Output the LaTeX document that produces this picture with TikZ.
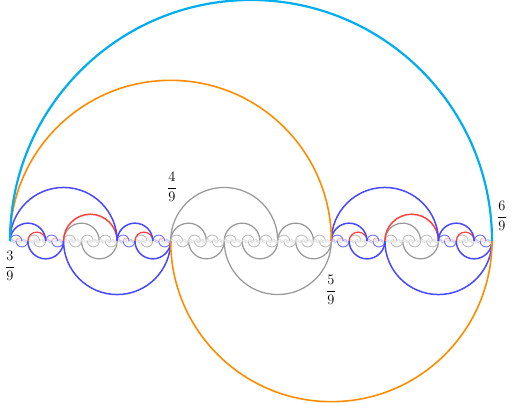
\documentclass[tikz,border=0pt]{standalone}
\usepackage{amsmath}
\definecolor{cyanc}{RGB}{0,174,239}
\definecolor{orangec}{RGB}{255,140,0}
\definecolor{bluec}{RGB}{72,72,255}
\definecolor{redc}{RGB}{255,64,64}
\tikzset{
  lbl/.style={font=\Large, inner sep=0pt},
  bigarc/.style={line width=2.2pt, cyanc},
  midarc/.style={line width=1.6pt, orangec},
}
% gray self-similar pattern on [a,a+L]
\newcommand\Gint[2]{%
  \begingroup
  \pgfmathsetmacro\Lt{#2/3}%
  \ifdim\Lt pt>0.5pt
    \pgfmathsetmacro\xb{#1+\Lt}%
    \pgfmathsetmacro\xc{#1+2*\Lt}%
    \pgfmathtruncatemacro\pc{min(40,10+3*\Lt)}%
    \pgfmathsetmacro\lw{min(1.25,0.3+0.09*\Lt)}%
    \draw[line width=\lw pt, color=black!\pc] (#1,0) arc[start angle=180,end angle=0,radius=\Lt pt];
    \draw[line width=\lw pt, color=black!\pc] (\xb,0) arc[start angle=180,end angle=360,radius=\Lt pt];
    \edef\next{\noexpand\Gint{#1}{\Lt}\noexpand\Gint{\xb}{\Lt}\noexpand\Gint{\xc}{\Lt}}%
    \next
  \fi
  \endgroup}
% red interval: red semicircle over the whole, gray pattern inside
\newcommand\Rint[2]{%
  \begingroup
  \Gint{#1}{#2}%
  \pgfmathsetmacro\rr{#2/2}%
  \ifdim\rr pt>0.5pt
    \pgfmathtruncatemacro\pc{min(100,20+10*\rr)}%
    \pgfmathsetmacro\lw{min(1.5,0.3+0.1*\rr)}%
    \draw[line width=\lw pt, color=redc!\pc] (#1,0) arc[start angle=180,end angle=0,radius=\rr pt];
  \fi
  \endgroup}
% blue interval
\newcommand\Bint[2]{%
  \begingroup
  \pgfmathsetmacro\Lt{#2/3}%
  \ifdim\Lt pt>0.5pt
    \pgfmathsetmacro\xb{#1+\Lt}%
    \pgfmathsetmacro\xc{#1+2*\Lt}%
    \edef\next{\noexpand\Bint{#1}{\Lt}\noexpand\Rint{\xb}{\Lt}\noexpand\Bint{\xc}{\Lt}}%
    \next
    \pgfmathtruncatemacro\pc{min(100,20+10*\Lt)}%
    \pgfmathsetmacro\lw{min(1.5,0.3+0.1*\Lt)}%
    \draw[line width=\lw pt, color=bluec!\pc] (#1,0) arc[start angle=180,end angle=0,radius=\Lt pt];
    \draw[line width=\lw pt, color=bluec!\pc] (\xb,0) arc[start angle=180,end angle=360,radius=\Lt pt];
  \fi
  \endgroup}
\begin{document}
\begin{tikzpicture}[x=1pt,y=1pt]
\useasboundingbox (0,-161) rectangle (514,241);
\coordinate (p3) at (10,0);
\coordinate (p4) at (170.667,0);
\coordinate (p5) at (331.333,0);
\coordinate (p6) at (492,0);
\Gint{170.667}{160.667}
\Bint{10}{160.667}
\Bint{331.333}{160.667}
\draw[midarc] (p3) arc[start angle=180,end angle=0,radius=160.667pt];
\draw[midarc] (p4) arc[start angle=180,end angle=360,radius=160.667pt];
\draw[bigarc] (p3) arc[start angle=180,end angle=0,radius=241pt];
\node[lbl] (l3) at (10,-25) {$\dfrac{3}{9}$};
\node[lbl] (l4) at (172,54) {$\dfrac{4}{9}$};
\node[lbl] (l5) at (331,-49) {$\dfrac{5}{9}$};
\node[lbl] (l6) at (502,25) {$\dfrac{6}{9}$};
\end{tikzpicture}
\end{document}
